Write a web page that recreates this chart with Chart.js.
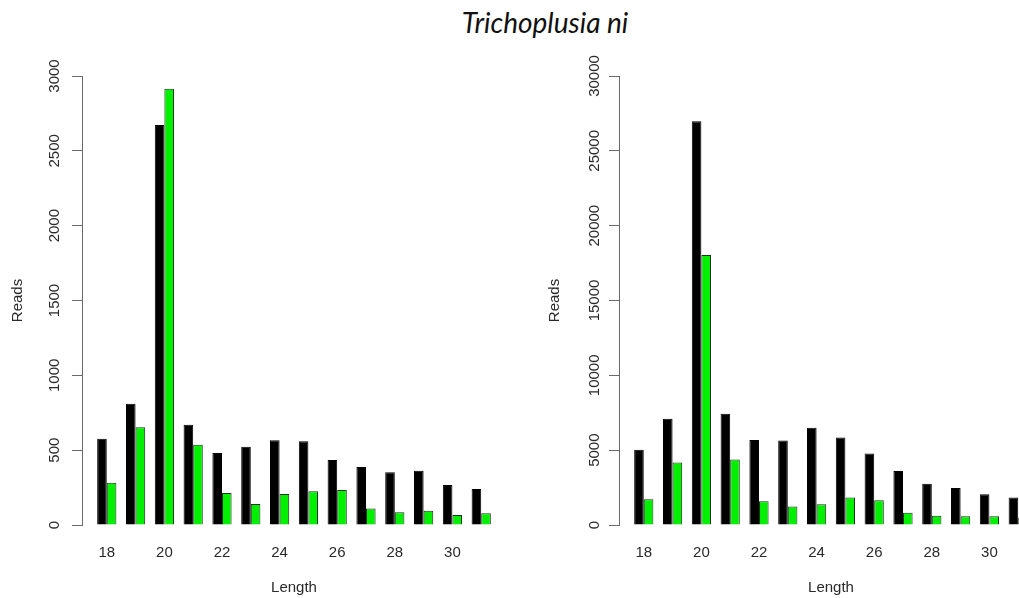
<!DOCTYPE html>
<html>
<head>
<meta charset="utf-8">
<script src="https://cdn.jsdelivr.net/npm/chart.js@4"></script>
<style>
  html, body { margin: 0; padding: 0; background: #fff; overflow: hidden; width: 1019px; height: 598px; }
  #title { position: absolute; top: 5px; left: 545px; transform: translateX(-50%); font: italic 28px/34px Lato, sans-serif; color: #111; white-space: nowrap; }
  .panel { position: absolute; top: 0; }
</style>
</head>
<body>
<div id="title">Trichoplusia ni</div>
<canvas id="leftChart" class="panel" style="left:0px" width="520" height="598"></canvas>
<canvas id="rightChart" class="panel" style="left:537px" width="520" height="598"></canvas>
<script>
// read lengths (nt)
const lengths = [18, 19, 20, 21, 22, 23, 24, 25, 26, 27, 28, 29, 30, 31];
const lengthTicks = [18, 20, 22, 24, 26, 28, 30];

// left panel
const leftBlack = [576, 810, 2672, 670, 481, 523, 566, 559, 434, 387, 352, 363, 267, 240];
const leftGreen = [283, 653, 2915, 537, 214, 140, 207, 225, 234, 111, 85, 96, 67, 78];
const leftTicks = [0, 500, 1000, 1500, 2000, 2500, 3000];

// right panel
const rightBlack = [5030, 7100, 26970, 7440, 5680, 5640, 6500, 5840, 4770, 3610, 2760, 2470, 2050, 1830];
const rightGreen = [1720, 4170, 18040, 4370, 1580, 1230, 1380, 1830, 1650, 820, 620, 580, 580, 500];
const rightTicks = [0, 5000, 10000, 15000, 20000, 25000, 30000];

const axisColor = '#6a6a6a';
const textColor = '#2a2a2a';

function makeChart(id, black, green, yTicks, labelPad) {
    const ctx = document.getElementById(id).getContext('2d');
    return new Chart(ctx, {
        type: 'bar',
        data: {
            labels: lengths,
            datasets: [
                { data: black, backgroundColor: '#000', borderColor: '#000', borderWidth: 1 },
                { data: green, backgroundColor: '#00f000', borderColor: '#1c331c', borderWidth: 1 }
            ]
        },
        options: {
            responsive: false,
            animation: false,
            layout: { padding: { top: 76, right: 14, bottom: 0, left: 0 } },
            plugins: { legend: { display: false }, tooltip: { enabled: false } },
            datasets: { bar: { categoryPercentage: 2 / 3, barPercentage: 1 } },
            scales: {
                x: {
                    type: 'linear',
                    offset: false,
                    min: 17.14,
                    max: 31.86,
                    grid: { display: false, drawTicks: false },
                    border: { display: false },
                    afterBuildTicks: s => { s.ticks = lengthTicks.map(v => ({ value: v })); },
                    afterFit: s => { s.height = 73; },
                    ticks: { font: { family: 'Liberation Sans', size: 15 }, color: textColor, padding: 19, maxRotation: 0, autoSkip: false, callback: v => String(v) },
                    title: { display: true, text: 'Length', font: { family: 'Liberation Sans', size: 15 }, color: textColor, padding: { bottom: 1 } }
                },
                y: {
                    min: yTicks[0],
                    max: yTicks[yTicks.length - 1],
                    afterBuildTicks: s => { s.ticks = yTicks.map(v => ({ value: v })); },
                    afterFit: s => { s.width = 82; },
                    grid: { display: true, drawOnChartArea: false, drawTicks: true, tickLength: 10, color: axisColor },
                    border: { display: true, color: axisColor },
                    ticks: { font: { family: 'Liberation Sans', size: 15 }, color: textColor, minRotation: 90, maxRotation: 90, crossAlign: 'center', padding: labelPad, callback: v => String(v) },
                    title: { display: true, text: 'Reads', font: { family: 'Liberation Sans', size: 15 }, color: textColor, padding: { top: 9 } }
                }
            }
        }
    });
}

makeChart('leftChart', leftBlack, leftGreen, leftTicks, 0);
makeChart('rightChart', rightBlack, rightGreen, rightTicks, -7);
</script>
</body>
</html>
